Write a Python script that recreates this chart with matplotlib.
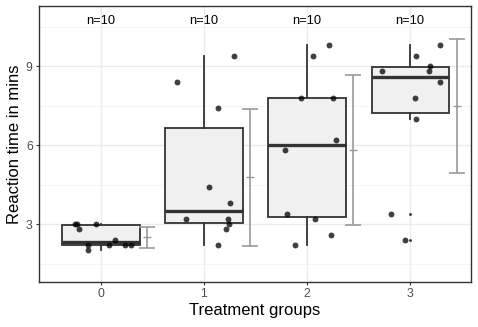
import numpy as np
import matplotlib
matplotlib.use("Agg")
import matplotlib.pyplot as plt

plt.rcParams['font.family'] = ['Liberation Sans', 'DejaVu Sans']

groups = [0, 1, 2, 3]
group_labels = ["0", "1", "2", "3"]

# reaction times, one list per treatment group
times_0 = [3.0, 3.0, 2.8, 3.0, 2.2, 2.0, 2.2, 2.4, 2.2, 2.2]
times_1 = [8.4, 9.4, 7.4, 4.4, 3.8, 3.2, 3.2, 3.0, 2.8, 2.2]
times_2 = [9.8, 9.4, 7.8, 7.8, 6.2, 5.8, 3.4, 3.2, 2.6, 2.2]
times_3 = [9.8, 9.4, 9.0, 8.8, 8.8, 8.4, 7.8, 7.0, 3.4, 2.4]

# horizontal jitter of each point, as seen in the picture
jitter_0 = [-0.25, -0.23, -0.21, -0.05, -0.12, -0.12, 0.08, 0.14, 0.23, 0.29]
jitter_1 = [-0.26, 0.29, 0.14, 0.05, 0.25, -0.17, 0.23, 0.24, 0.21, 0.14]
jitter_2 = [0.21, 0.06, -0.06, 0.25, 0.28, -0.21, -0.19, 0.08, 0.23, -0.12]
jitter_3 = [0.29, 0.06, 0.19, 0.18, -0.27, 0.29, 0.05, 0.06, -0.19, -0.05]

all_times = [times_0, times_1, times_2, times_3]
all_jitter = [jitter_0, jitter_1, jitter_2, jitter_3]


def main():
    fig = plt.figure(figsize=(4.78, 3.27), dpi=100)
    ax = fig.add_axes([39 / 478, 1 - 282 / 327, 432 / 478, 276 / 327])

    # grid like theme_bw
    for y in [1.5, 4.5, 7.5, 10.5]:
        ax.axhline(y, color="#F2F2F2", lw=0.6, zorder=0)
    for y in [3, 6, 9]:
        ax.axhline(y, color="#EBEBEB", lw=1.0, zorder=0)
    for x in groups:
        ax.axvline(x, color="#EBEBEB", lw=1.0, zorder=0)

    ax.boxplot(all_times, positions=groups, widths=0.75, whis=1.5,
               patch_artist=True, showcaps=False,
               boxprops=dict(facecolor="#F0F0F0", edgecolor="#333333", linewidth=1.3),
               medianprops=dict(color="#333333", linewidth=2.4),
               whiskerprops=dict(color="#333333", linewidth=1.3),
               flierprops=dict(marker=".", markersize=2, markerfacecolor="#333333",
                               markeredgecolor="#333333"),
               zorder=2)

    for g, vals, jit in zip(groups, all_times, all_jitter):
        ax.scatter(np.array(jit) + g, vals, s=18, color="black", alpha=0.75,
                   linewidths=0, zorder=3)
        m = np.mean(vals)
        sd = np.std(vals, ddof=1)
        ax.errorbar(g + 0.45, m, yerr=sd, fmt="_", color="#999999", ecolor="#999999",
                    markersize=6, elinewidth=1.2, capsize=5.5, capthick=1.2, zorder=2)
        ax.text(g, 10.72, "n=%d" % len(vals), ha="center", va="center",
                fontsize=9.3, color="black")

    ax.set_xlim(-0.6, 3.59)
    ax.set_ylim(0.8, 11.28)
    ax.set_xticks(groups)
    ax.set_xticklabels(group_labels)
    ax.set_yticks([3, 6, 9])
    ax.tick_params(colors="#333333", labelcolor="#4D4D4D", labelsize=8.8, length=2.5, width=0.8, pad=2)
    for s in ax.spines.values():
        s.set_color("#333333")
        s.set_linewidth(1.0)

    ax.set_xlabel("Treatment groups", fontsize=12, labelpad=2)
    ax.set_ylabel("Reaction time in mins", fontsize=12, labelpad=3)

    fig.savefig("out.png", dpi=100)


if __name__ == '__main__':
    main()
